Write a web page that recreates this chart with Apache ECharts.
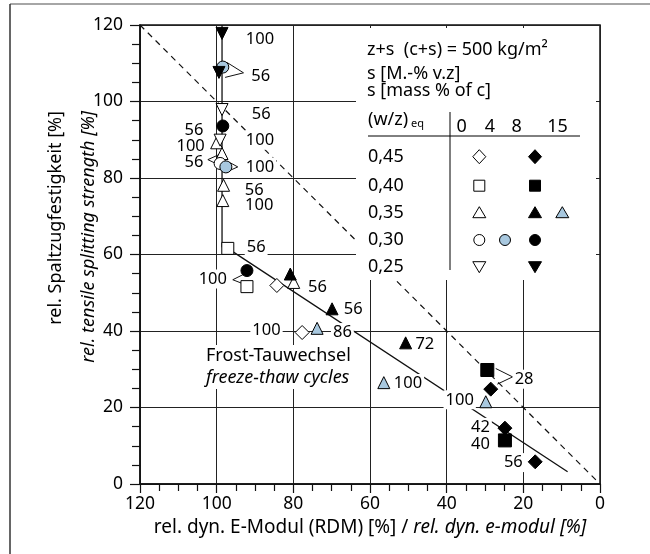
<!DOCTYPE html>
<html>
<head>
<meta charset="utf-8">
<script src="https://cdn.jsdelivr.net/npm/echarts@6/dist/echarts.min.js"></script>
<style>
  html, body { margin: 0; padding: 0; background: #fff; }
  #chart { width: 650px; height: 554px; }
</style>
</head>
<body>
<div id="chart"></div>
<script>
const FONT = '"Noto Sans", sans-serif';
const BLUE = '#a8c8df';
const INK = '#000';

// measured points [rel. E-modulus, rel. splitting strength]
const diamondOpen = [[84.3, 51.9], [77.7, 39.6]];
const diamondFilled = [[28.5, 24.8], [24.8, 14.6], [16.9, 5.8]];
const squareOpen = [[97.1, 61.6], [92.1, 51.6]];
const squareFilled = [[29.4, 29.8], [24.8, 11.4]];
const triOpen = [[100, 89.2], [98.6, 86.4], [98.2, 78.1], [98.4, 74.1], [79.9, 52.7]];
const triFilled = [[80.8, 54.9], [69.9, 45.8], [50.7, 36.9]];
const triBlue = [[73.8, 40.7], [56.4, 26.5], [29.8, 21.5]];
const circleOpen = [[99.1, 83.8]];
const circleBlue = [[98.4, 109], [97.6, 82.9]];
const circleFilled = [[98.4, 93.6], [92.1, 55.8]];
const downOpen = [[98.6, 97.9], [99.1, 89.9]];
const downFilled = [[98.6, 117.8], [99.4, 107.6]];

// freeze-thaw cycle numbers [text, x, y]
const cycleLabels = [
  ['100', 88.7, 116.3], ['56', 88.5, 106.7], ['56', 88.4, 96.7], ['56', 105.9, 92.5],
  ['100', 88.7, 89.9], ['100', 106.8, 88.3], ['56', 105.9, 84.2], ['100', 88.7, 82.9],
  ['56', 90.2, 76.8], ['100', 88.9, 72.8], ['56', 89.7, 61.9], ['100', 101, 53.6],
  ['56', 73.7, 51.4], ['56', 64.4, 45.8], ['100', 87, 40.1], ['86', 67.2, 39.6],
  ['72', 45.7, 36.6], ['100', 50.1, 26.3], ['100', 36.6, 22], ['28', 19.8, 27.4],
  ['42', 31.2, 14.8], ['40', 31.2, 10.4], ['56', 22.6, 5.6]
];

// callout wedges
const wedges = [
  [[97.3, 110.2], [93, 107.5], [97.8, 106.3]],
  [[99.2, 86.2], [102.3, 84.8], [99.2, 83.3]],
  [[96.5, 84], [94.5, 82.9], [96.5, 82]],
  [[93, 54.8], [95.8, 53.4], [93, 52.3]],
  [[27.2, 30.2], [22.8, 28], [26.8, 26.1]]
];

const diagLine = [[120, 120], [0, 0]];
const trendLine = [[98.6, 120], [98.6, 62], [97.1, 61.6], [8.45, 3.2]];

const legendRows = ['0,45', '0,40', '0,35', '0,30', '0,25'];
const legendCols = ['0', '4', '8', '15'];

function marks(data, symbol, fill, rotate, size) {
  return {
    type: 'scatter', z: 5, silent: true, data: data,
    symbol: symbol, symbolSize: size || 12, symbolRotate: rotate || 0,
    itemStyle: { color: fill, borderColor: '#000', borderWidth: 1, opacity: 1 }
  };
}

const chart = echarts.init(document.getElementById('chart'));

// legend drawn as graphic
const lx = { col: [479.3, 505, 535, 562.3], row: [156.7, 185.7, 212.7, 240, 266.7] };
function sym(kind, cx, cy, fill) {
  const st = { fill: fill, stroke: '#000', lineWidth: 1 };
  if (kind === 'circle') return { type: 'circle', z: 101, shape: { cx: cx, cy: cy, r: 5.5 }, style: st };
  if (kind === 'rect') return { type: 'rect', z: 101, shape: { x: cx - 5.5, y: cy - 5.5, width: 11, height: 11 }, style: st };
  let pts;
  if (kind === 'diamond') pts = [[cx, cy - 7], [cx + 6.5, cy], [cx, cy + 7], [cx - 6.5, cy]];
  if (kind === 'triangle') pts = [[cx, cy - 6], [cx + 6.5, cy + 5], [cx - 6.5, cy + 5]];
  if (kind === 'down') pts = [[cx, cy + 6], [cx + 6.5, cy - 5], [cx - 6.5, cy - 5]];
  return { type: 'polygon', z: 101, shape: { points: pts }, style: st };
}
function txt(text, x, y, opt) {
  return {
    type: 'text', z: 101, x: x, y: y,
    style: Object.assign({ text: text, font: '18px ' + FONT, fill: INK, textVerticalAlign: 'middle' }, opt || {})
  };
}

const legendItems = [
  { type: 'rect', z: 100, shape: { x: 356, y: 28, width: 240, height: 252 }, style: { fill: '#fff' } },
  txt('z+s  (c+s) = 500 kg/m²', 367, 50),
  txt('s [M.-% v.z]', 367, 73.5),
  txt('s [mass % of c]', 367, 91),
  txt('(w/z)', 368, 120),
  txt('eq', 411, 124, { font: '11px ' + FONT }),
  { type: 'line', z: 101, shape: { x1: 368, y1: 136, x2: 580, y2: 136 }, style: { stroke: INK, lineWidth: 1 } },
  { type: 'line', z: 101, shape: { x1: 450, y1: 112, x2: 450, y2: 270 }, style: { stroke: INK, lineWidth: 1 } }
];
[461.7, 490, 516.7, 557.5].forEach((x, i) => legendItems.push(txt(legendCols[i], x, 127, { textAlign: 'center' })));
legendRows.forEach((r, i) => legendItems.push(txt(r, 368, lx.row[i])));
legendItems.push(
  sym('diamond', lx.col[0], lx.row[0], '#fff'), sym('diamond', lx.col[2], lx.row[0], '#000'),
  sym('rect', lx.col[0], lx.row[1], '#fff'), sym('rect', lx.col[2], lx.row[1], '#000'),
  sym('triangle', lx.col[0], lx.row[2], '#fff'), sym('triangle', lx.col[2], lx.row[2], '#000'),
  sym('triangle', lx.col[3], lx.row[2], BLUE),
  sym('circle', lx.col[0], lx.row[3], '#fff'), sym('circle', lx.col[1], lx.row[3], BLUE),
  sym('circle', lx.col[2], lx.row[3], '#000'),
  sym('down', lx.col[0], lx.row[4], '#fff'), sym('down', lx.col[2], lx.row[4], '#000')
);

const axisCommon = {
  type: 'value', min: 0, max: 120, interval: 20,
  axisLine: { onZero: false, lineStyle: { color: '#111', width: 1.5 } },
  axisTick: { length: 9, lineStyle: { color: '#111', width: 1.2 } },
  minorTick: { show: true, splitNumber: 4, length: 7, lineStyle: { color: '#111', width: 1.2 } },
  splitLine: { show: true, lineStyle: { color: '#222', width: 1 } },
  axisLabel: { fontSize: 17.5, color: INK, fontFamily: FONT }
};

chart.setOption({
  animation: false,
  grid: { left: 140, right: 50, top: 25, bottom: 70, show: true, borderColor: '#111', borderWidth: 1.5 },
  xAxis: Object.assign({}, axisCommon, {
    inverse: true,
    axisLabel: Object.assign({}, axisCommon.axisLabel, { margin: 11 }),
    name: '{n|rel. dyn. E-Modul (RDM) [%] / }{i|rel. dyn. e-modul [%]}',
    nameLocation: 'middle', nameGap: 28,
    nameTextStyle: {
      rich: {
        n: { fontSize: 19, fontFamily: FONT, color: INK },
        i: { fontSize: 19, fontFamily: FONT, color: INK, fontStyle: 'italic' }
      }
    }
  }),
  yAxis: Object.assign({}, axisCommon, {
    axisTick: { length: 10, lineStyle: { color: '#111', width: 1.2 } },
    minorTick: { show: true, splitNumber: 4, length: 8, lineStyle: { color: '#111', width: 1.2 } },
    axisLabel: Object.assign({}, axisCommon.axisLabel, { margin: 17 })
  }),
  graphic: [
    { type: 'line', z: 100, shape: { x1: 10, y1: 4, x2: 650, y2: 4 }, style: { stroke: '#888', lineWidth: 1.5 } },
    { type: 'line', z: 100, shape: { x1: 10, y1: 4, x2: 10, y2: 554 }, style: { stroke: '#333', lineWidth: 1.5 } },
    { type: 'text', x: 56, y: 111, rotation: Math.PI / 2,
      style: { text: 'rel. Spaltzugfestigkeit [%]', font: '18px ' + FONT, fill: INK, textAlign: 'right', textVerticalAlign: 'middle' } },
    { type: 'text', x: 89, y: 111, rotation: Math.PI / 2,
      style: { text: 'rel. tensile splitting strength [%]', font: 'italic 18px ' + FONT, fill: INK, textAlign: 'right', textVerticalAlign: 'middle' } },
    { type: 'group', children: legendItems }
  ],
  series: [
    { type: 'line', z: 2, silent: true, data: diagLine, symbol: 'none',
      lineStyle: { color: '#111', width: 1.2, type: [6, 5] } },
    { type: 'line', z: 2, silent: true, data: trendLine, symbol: 'none',
      lineStyle: { color: '#111', width: 1.3 } }
  ].concat(wedges.map(w => ({
    type: 'line', z: 3, silent: true, data: w, symbol: 'none',
    lineStyle: { color: '#111', width: 1 }
  }))).concat([
    {
      type: 'scatter', z: 4, silent: true, symbolSize: 1,
      itemStyle: { color: 'rgba(255,255,255,0)', opacity: 1 },
      data: cycleLabels.map(l => ({ value: [l[1], l[2]], label: { formatter: l[0] } })),
      label: { show: true, position: 'inside', color: INK, fontSize: 16.5, fontFamily: FONT,
        opacity: 1, textBorderWidth: 0, backgroundColor: '#fff', padding: [1, 2] }
    },
    {
      type: 'scatter', z: 4, silent: true, symbolSize: 1,
      itemStyle: { color: 'rgba(255,255,255,0)', opacity: 1 },
      data: [[103.3, 30.6]],
      label: {
        show: true, position: 'inside', align: 'left', verticalAlign: 'middle',
        opacity: 1, textBorderWidth: 0,
        backgroundColor: '#fff', padding: [0, 2],
        formatter: '{a|Frost-Tauwechsel}\n{b|freeze-thaw cycles}',
        rich: {
          a: { fontSize: 18, fontFamily: FONT, color: INK, lineHeight: 22, textBorderWidth: 0 },
          b: { fontSize: 18, fontFamily: FONT, color: INK, lineHeight: 22, fontStyle: 'italic', textBorderWidth: 0 }
        }
      }
    },
    marks(diamondOpen, 'diamond', '#fff', 0, 14),
    marks(diamondFilled, 'diamond', '#000', 0, 14),
    marks(squareOpen, 'rect', '#fff', 0, 12),
    marks(squareFilled, 'rect', '#000', 0, 13),
    marks(triOpen, 'triangle', '#fff', 0, 12),
    marks(triFilled, 'triangle', '#000', 0, 12),
    marks(triBlue, 'triangle', BLUE, 0, 12),
    marks(circleOpen, 'circle', '#fff', 0, 12),
    marks(circleBlue, 'circle', BLUE, 0, 12),
    marks(circleFilled, 'circle', '#000', 0, 12),
    marks(downOpen, 'triangle', '#fff', 180, 12),
    marks(downFilled, 'triangle', '#000', 180, 12)
  ])
});
</script>
</body>
</html>
